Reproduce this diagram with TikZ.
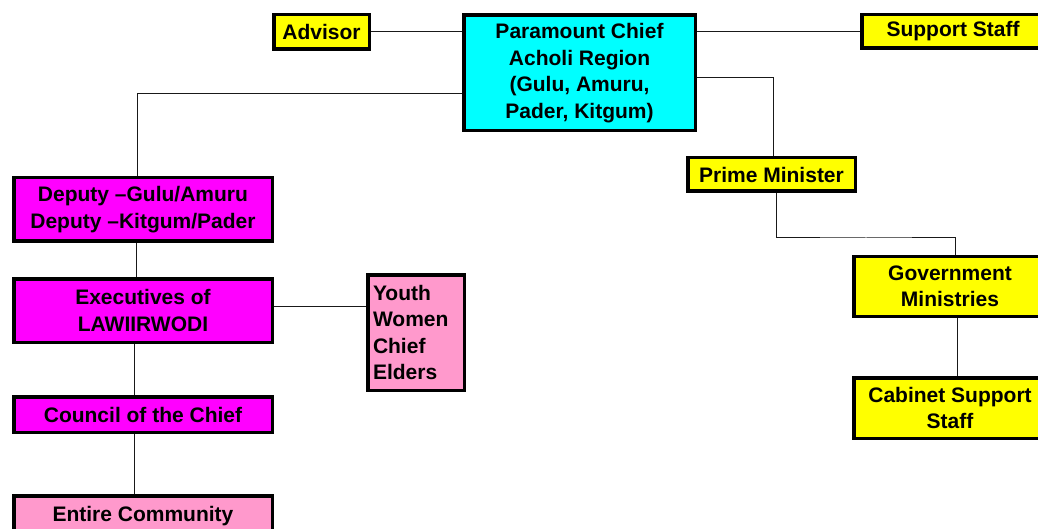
\documentclass[tikz,border=0pt]{standalone}
\usepackage{fontspec}
\setmainfont{Liberation Sans}
\begin{document}
\begin{tikzpicture}[x=1pt,y=-1pt,
  box/.style={draw=black,line width=3.5pt,rectangle,inner sep=0pt,align=center,
    font=\fontsize{21}{26.5}\selectfont\bfseries},
  link/.style={line width=1pt,draw=black!90}]
\useasboundingbox (0,0) rectangle (1038,529);
\clip (0,0) rectangle (1038,529);
\definecolor{chiefcyan}{HTML}{00FFFF}
\definecolor{boxyellow}{HTML}{FFFF00}
\definecolor{boxmagenta}{HTML}{FF00FF}
\definecolor{boxpink}{HTML}{FF99CC}
% top row
\node[box,fill=boxyellow,minimum width=95.5pt,minimum height=34.5pt] (advisor) at (321.5,32) {Advisor};
\node[box,fill=chiefcyan,minimum width=231.5pt,minimum height=115.5pt] (chief) at (579.5,73)
  {Paramount Chief\\Acholi Region\\(Gulu, Amuru,\\Pader, Kitgum)};
\node[box,fill=boxyellow,minimum width=182.5pt,minimum height=33.5pt] (support) at (953,31.5) {Support Staff};
% right branch
\node[box,fill=boxyellow,minimum width=167.5pt,minimum height=33.5pt] (pm) at (771.5,174.5) {Prime Minister};
\node[box,fill=boxyellow,minimum width=192.5pt,minimum height=59.5pt] (gov) at (950,286.5) {Government\\Ministries};
\node[box,fill=boxyellow,minimum width=192.5pt,minimum height=60.5pt] (cabinet) at (950,408) {Cabinet Support\\Staff};
% left branch
\node[box,fill=boxmagenta,minimum width=258.5pt,minimum height=63.5pt] (deputy) at (143,209.5)
  {Deputy –Gulu/Amuru\\Deputy –Kitgum/Pader};
\node[box,fill=boxmagenta,minimum width=258.5pt,minimum height=63.5pt] (exec) at (143,310.5)
  {Executives of\\LAWIIRWODI};
\node[box,fill=boxpink,minimum width=96.5pt,minimum height=115.5pt,align=left,text width=86pt] (groups) at (416,332.5)
  {Youth\\Women\\Chief\\Elders};
\node[box,fill=boxmagenta,minimum width=258.5pt,minimum height=35.5pt] (council) at (143,414.5) {Council of the Chief};
\node[box,fill=boxpink,minimum width=258.5pt,minimum height=40.5pt] (community) at (143,516) {Entire Community};
% connectors
\draw[link] (advisor.east) -- (chief.west |- advisor.east);
\draw[link] (chief.east |- support.west) -- (support.west);
\draw[link] ([yshift=-21pt]chief.west) -| ([xshift=-6pt]deputy.north);
\draw[link] ([yshift=-5pt]chief.east) -| ([xshift=1.5pt]pm.north);
\draw[link] ([xshift=4.5pt]pm.south) |- (866,238) -| ([xshift=5pt]gov.north);
\draw[link] ([xshift=7pt]gov.south) -- ([xshift=7pt]cabinet.north);
\draw[link] ([xshift=-7pt]deputy.south) -- ([xshift=-7pt]exec.north);
\draw[link] ([yshift=4.5pt]exec.east) -- ([yshift=26.5pt]groups.west);
\draw[link] ([xshift=-9pt]exec.south) -- ([xshift=-9pt]council.north);
\draw[link] ([xshift=-9pt]council.south) -- ([xshift=-9pt]community.north);
\end{tikzpicture}
\end{document}
